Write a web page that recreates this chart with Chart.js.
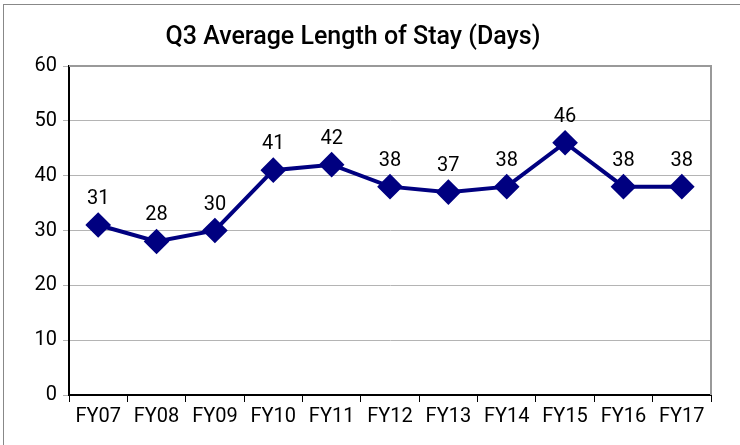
<!DOCTYPE html>
<html>
<head>
<meta charset="utf-8">
<script src="https://cdn.jsdelivr.net/npm/chart.js@4"></script>
<style>
  html, body { margin: 0; padding: 0; background: #fff; }
  #wrap { position: relative; width: 740px; height: 445px; overflow: hidden; }
  #frame { position: absolute; left: 3px; top: 4px; width: 740px; height: 460px; border: 1px solid #888; box-sizing: border-box; }
  canvas { position: absolute; left: 0; top: 0; }
</style>
</head>
<body>
<div id="wrap">
  <div id="frame"></div>
  <canvas id="losChart" width="740" height="445"></canvas>
</div>
<script>
// Chart data
const chartTitle = 'Q3 Average Length of Stay (Days)';
const fiscalYears = ['FY07', 'FY08', 'FY09', 'FY10', 'FY11', 'FY12', 'FY13', 'FY14', 'FY15', 'FY16', 'FY17'];
const avgStay = [31, 28, 30, 41, 42, 38, 37, 38, 46, 38, 38];
const yTicks = [0, 10, 20, 30, 40, 50, 60];

const fontFamily = 'Roboto, "Noto Sans", sans-serif';
const navy = '#000080';

// draws title, plot frame and value labels
const extras = {
    id: 'extras',
    beforeDatasetsDraw(chart) {
        const ctx = chart.ctx;
        const a = chart.chartArea;
        ctx.save();
        ctx.strokeStyle = '#999';
        ctx.lineWidth = 2;
        ctx.beginPath();
        ctx.moveTo(a.left, a.top);
        ctx.lineTo(a.right, a.top);
        ctx.lineTo(a.right, a.bottom);
        ctx.stroke();
        ctx.restore();
    },
    afterDatasetsDraw(chart) {
        const ctx = chart.ctx;
        ctx.save();
        ctx.fillStyle = '#000';
        ctx.font = '500 25px ' + fontFamily;
        ctx.textAlign = 'center';
        ctx.textBaseline = 'middle';
        ctx.fillText(chartTitle, 353, 38);

        ctx.font = '20px ' + fontFamily;
        ctx.textBaseline = 'bottom';
        chart.getDatasetMeta(0).data.forEach((pt, i) => {
            ctx.fillText(avgStay[i], pt.x, pt.y - 16);
        });
        ctx.restore();
    }
};

new Chart(document.getElementById('losChart'), {
    type: 'line',
    data: {
        labels: fiscalYears,
        datasets: [{
            data: avgStay,
            borderColor: navy,
            backgroundColor: navy,
            borderWidth: 4,
            pointStyle: 'rectRot',
            pointRadius: 10,
            pointHoverRadius: 10,
            pointBackgroundColor: navy,
            pointBorderColor: navy,
            tension: 0
        }]
    },
    options: {
        responsive: false,
        animation: false,
        layout: { padding: { left: 20, right: 29, top: 66, bottom: 0 } },
        plugins: { legend: { display: false }, tooltip: { enabled: false }, title: { display: false } },
        scales: {
            x: {
                offset: true,
                grid: { offset: true, drawOnChartArea: false, drawTicks: true, tickLength: 7, color: '#000' },
                border: { color: '#000', width: 2 },
                ticks: { color: '#000', font: { family: fontFamily, size: 20 }, padding: 3, maxRotation: 0 },
                afterFit(scale) { scale.height = 50; }
            },
            y: {
                min: 0,
                max: 60,
                afterBuildTicks(scale) { scale.ticks = yTicks.map(v => ({ value: v })); },
                grid: { color: '#b4b4b4', lineWidth: 1, drawTicks: true, tickLength: 6 },
                border: { color: '#000', width: 2 },
                ticks: { color: '#000', font: { family: fontFamily, size: 20 }, padding: 6 },
                afterFit(scale) { scale.width = 49; }
            }
        }
    },
    plugins: [extras]
});
</script>
</body>
</html>
